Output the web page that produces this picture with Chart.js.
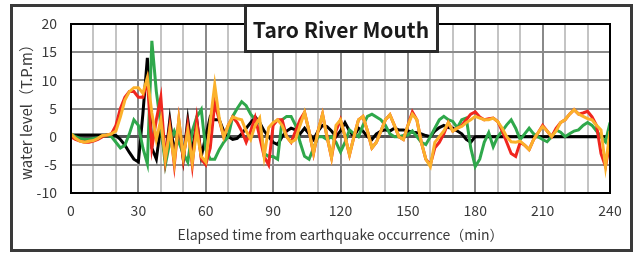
<!DOCTYPE html>
<html>
<head>
<meta charset="utf-8">
<script src="https://cdn.jsdelivr.net/npm/chart.js@4.4.1/dist/chart.umd.min.js"></script>
<style>
  html, body { margin: 0; padding: 0; background: #fff; overflow: hidden; }
  #river-chart { display: block; }
</style>
</head>
<body>
<canvas id="river-chart" width="635" height="259"></canvas>
<script>
// elapsed time (min), one reading every 2 min
const minutes = [
  0, 2, 4, 6, 8, 10, 12, 14, 16, 18, 20, 22, 24, 26, 28,
  30, 32, 34, 36, 38, 40, 42, 44, 46, 48, 50, 52, 54, 56, 58,
  60, 62, 64, 66, 68, 70, 72, 74, 76, 78, 80, 82, 84, 86, 88,
  90, 92, 94, 96, 98, 100, 102, 104, 106, 108, 110, 112, 114, 116, 118,
  120, 122, 124, 126, 128, 130, 132, 134, 136, 138, 140, 142, 144, 146, 148,
  150, 152, 154, 156, 158, 160, 162, 164, 166, 168, 170, 172, 174, 176, 178,
  180, 182, 184, 186, 188, 190, 192, 194, 196, 198, 200, 202, 204, 206, 208,
  210, 212, 214, 216, 218, 220, 222, 224, 226, 228, 230, 232, 234, 236, 238, 240
];

// water level (T.P.m)
const levelBlack = [
  0.3, 0.3, 0.3, 0.3, 0.3, 0.3, 0.3, 0.3, 0.3, 0.3, 0.2, -0.5, -1.5, -2.8, -4,
  -4.5, 4, 14, -2, -4, 2, -4, 3, -3, 2, -4, 3, -3, 3, -3.5,
  0, 3.5, 3, 3, 1, 0, -0.5, -0.3, 0.5, 1.5, 2.5, 3.5, 2.5, 1, 0,
  -1, -1.4, 0, 1, 1.5, 1.2, 0.5, 1.5, 0.5, -0.5, 1, 2, 1.8, 1, 0,
  1, 2.5, 1, 0, 1.5, 1, 0, -0.5, 0.5, 1, 1.2, 1, 1.5, 1.2, 1.2,
  1, 0.8, 0.7, 0.5, 0.2, 0, 1, 1.6, 2, 1.6, 1.5, 1, 0.5, -0.5, -1,
  0, 0, 0, 0, 0, 0, 0, 0, 0, 0, 0, 0, 0, 0, 0,
  0, 0, 0, 0, 0, 0, 0, 0, 0, 0, 0, 0, 0, 0, 0, 0
];
const levelRed = [
  0, -0.5, -0.8, -1, -1, -0.8, -0.5, 0, 0.3, 0.5, 2, 5, 7, 8, 8,
  7, 7, 10, -2, 3, 7, -4, 2, -5, 3, -4, 2, -5, 3, -4,
  -5, -2, 6, 3, 0, 2, 3.5, 2.5, 1, -1, 1, 3.4, 0, -3.5, -5,
  2, 3, 3, 0, -1, 1, 3, 4.3, 1, -3, 1, 4, 0, -3.7, 1,
  3, 0, -3.2, 0, 3, 3.6, 1, -2, -1, 1, 3, 3.9, 2, 0, -0.5,
  2, 4.4, 3, -1, -4, -5, -2, -1, 0.5, 2.5, 1, 1.5, 2, 3, 4,
  4.4, 3.5, 3, 3.2, 3.3, 2.7, 1, -1, -3, -3.5, -1, -1.5, -2.3, -0.5, 0.7,
  2, 1, 0, 1.5, 2.5, 3, 4, 4.8, 4, 4.2, 4.5, 3.5, 2, -3, -5.3, -1
];
const levelGreen = [
  0.5, 0, -0.3, -0.5, -0.5, -0.3, -0.2, 0, 0.3, 0, -1, -2, -1.5, 0.5, 3,
  2, -2, -4.8, 17, 8, 2, -5, -1, 1, -1, -3, -4.5, 1, 3.5, 4.8,
  -2.3, -4, -4, -2.3, -1, 0, 3.6, 5, 6.2, 5.5, 4, 3, 2.5, -3, -3.5,
  -3.5, -4, 3, 3.6, 3.6, 2, -1, -3.5, -4, -2, 0, 0, -0.5, 0, -1,
  -2.7, -1, 1.2, 0.5, 0, 2, 3.6, 4, 3.5, 3, 2, 0.5, 0, 0, 0.2,
  0.3, 1, 0, -1, -1.4, 0, 1.5, 3, 3.6, 3, 2.7, 1.6, 3, 3.3, -2,
  -5.3, -4, -1, 0.7, -1.8, 0, 1, 2.1, 3, 1.5, -0.5, 0.5, 1.5, 0.5, 0,
  -0.5, -0.9, 0, 1.2, 0.8, 0, 0.5, 1, 1.2, 2, 2.5, 2, 1, 0, -0.9, 2.5
];
const levelOrange = [
  0.5, -0.3, -0.8, -1, -0.8, -0.7, -0.3, 0.2, 0.3, 0.5, 1, 3.5, 6.5, 8, 8.7,
  8.7, 7.7, 10.5, 4.2, -0.5, 3, -4, 1.2, -4.5, 3, -3.5, 1, -4.5, 1, -3.5,
  -4.5, 2.7, 9.2, 3.3, -0.1, 2, 3.5, 3.2, 3, 1, -0.5, 2, 3.3, -3.5, 1.6,
  2.5, 3, 2, 0, -1, -0.5, 2, 4.3, 1, -2.9, 1, 4, 0, -3.7, 2,
  3, 0, -3.2, 0, 3, 3.6, 1, -2, -1, 1, 3, 3.9, 2, 0, -0.5,
  2, 4, 3, -1, -4, -5.3, -1, 0, 1, 2.5, 1, 1.5, 1.8, 2.5, 3,
  3.6, 3.3, 3, 3, 3.3, 2.7, 1.5, 0, -0.9, -1, -0.8, -1.5, -2.3, -0.5, 0.7,
  1.8, 1, 0, 1, 2.5, 3, 4, 4.8, 4, 3.6, 3.2, 3, 2, 1.2, -5.3, 1
];

const yTicks = [-10, -5, 0, 5, 10, 15, 20];
const chartTitle = "Taro River Mouth";

const JP_FONT = '"Noto Sans CJK JP", "Noto Sans", sans-serif';

function series(values, color) {
  return {
    data: values,
    borderColor: color,
    backgroundColor: color,
    borderWidth: 3,
    pointRadius: 0,
    tension: 0,
    fill: false,
  };
}

// outer frame, plot border and the boxed title
const framePlugin = {
  id: "frame",
  afterDraw(chart) {
    const { ctx, chartArea: a } = chart;
    ctx.save();
    ctx.strokeStyle = "#000";
    ctx.lineWidth = 2;
    ctx.strokeRect(a.left, a.top, a.right - a.left, a.bottom - a.top);

    ctx.strokeStyle = "#3a3a3a";
    ctx.lineWidth = 3;
    ctx.strokeRect(11.5, 5.5, 620, 245);

    ctx.fillStyle = "#fff";
    ctx.fillRect(245, 5, 192, 47);
    ctx.strokeStyle = "#2a2a2a";
    ctx.lineWidth = 3;
    ctx.strokeRect(245.5, 5.5, 192, 46);

    ctx.fillStyle = "#1a1a1a";
    ctx.font = "bold 21px " + JP_FONT;
    ctx.textAlign = "center";
    ctx.textBaseline = "middle";
    ctx.fillText(chartTitle, 341, 30);
    ctx.restore();
  },
};

const ctx = document.getElementById("river-chart").getContext("2d");
const riverChart = new Chart(ctx, {
  type: "line",
  data: {
    labels: minutes,
    datasets: [
      series(levelOrange, "#fbb12b"),
      series(levelRed, "#f0261e"),
      series(levelGreen, "#2fa84b"),
      series(levelBlack, "#000000"),
    ],
  },
  options: {
    responsive: false,
    animation: false,
    maintainAspectRatio: false,
    layout: { padding: { left: 0, right: 25, top: 24, bottom: 0 } },
    plugins: {
      legend: { display: false },
      tooltip: { enabled: false },
    },
    scales: {
      x: {
        type: "linear",
        min: 0,
        max: 240,
        afterFit(scale) { scale.height = 66; },
        ticks: {
          stepSize: 10,
          autoSkip: false,
          maxRotation: 0,
          padding: 9,
          color: "#3a3a3a",
          font: { family: JP_FONT, size: 14 },
          callback: (v) => (v % 30 === 0 ? v : ""),
        },
        grid: {
          drawTicks: false,
          color: (c) => (c.tick && c.tick.value % 30 === 0 ? "#8a8a8a" : "#c4c4c4"),
          lineWidth: 2,
        },
        border: { display: false },
        title: {
          display: true,
          text: "Elapsed time from earthquake occurrence（min）",
          color: "#3a3a3a",
          font: { family: JP_FONT, size: 14 },
          padding: { top: 0, bottom: 16 },
        },
      },
      y: {
        min: -10,
        max: 20,
        afterFit(scale) { scale.width = 71; },
        afterBuildTicks(scale) { scale.ticks = yTicks.map((v) => ({ value: v })); },
        ticks: {
          padding: 14,
          color: "#3a3a3a",
          font: { family: JP_FONT, size: 14 },
        },
        grid: {
          drawTicks: false,
          color: (c) => (c.tick && c.tick.value === 0 ? "#555" : "#8a8a8a"),
          lineWidth: (c) => (c.tick && c.tick.value === 0 ? 3 : 2),
        },
        border: { display: false },
        title: {
          display: true,
          text: "water level（T.P.m）",
          color: "#3a3a3a",
          font: { family: JP_FONT, size: 15 },
          padding: { top: 17, bottom: 0 },
        },
      },
    },
  },
  plugins: [framePlugin],
});
</script>
</body>
</html>
